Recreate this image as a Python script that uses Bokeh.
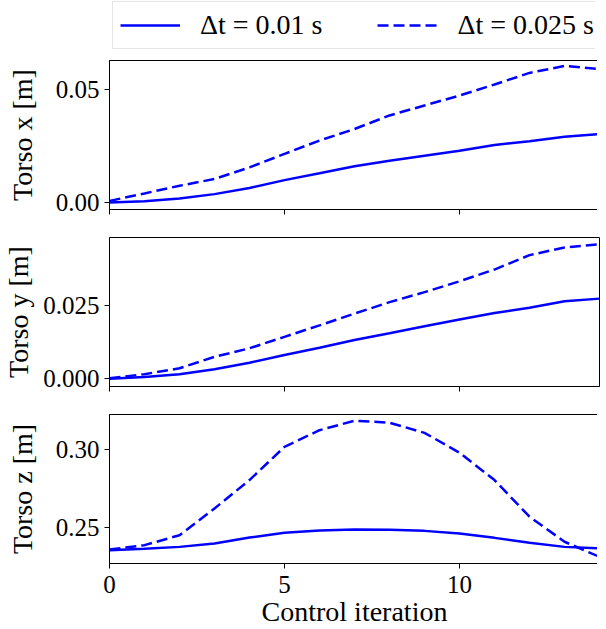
from bokeh.plotting import figure
from bokeh.layouts import column
from bokeh.models import (Range1d, FixedTicker, NumeralTickFormatter, Legend, LegendItem,
                          CustomJSTickFormatter)
from bokeh.embed import file_html
from bokeh.resources import INLINE

# ---- data ----
iters = [0, 1, 2, 3, 4, 5, 6, 7, 8, 9, 10, 11, 12, 13, 14]

x_dt001 = [0.0, 0.0006, 0.0018, 0.0037, 0.0064, 0.0099, 0.0129, 0.0160, 0.0185, 0.0207,
           0.0229, 0.0254, 0.0271, 0.0291, 0.0303]
x_dt0025 = [0.0007, 0.0040, 0.0074, 0.0104, 0.0155, 0.0215, 0.0274, 0.0325, 0.0385, 0.0429,
            0.0473, 0.0522, 0.0573, 0.0604, 0.0590]

y_dt001 = [0.0, 0.0006, 0.0016, 0.0033, 0.0055, 0.0081, 0.0106, 0.0132, 0.0155, 0.0179,
           0.0202, 0.0224, 0.0242, 0.0264, 0.0273]
y_dt0025 = [0.0002, 0.0016, 0.0036, 0.0075, 0.0104, 0.0143, 0.0182, 0.0222, 0.0261, 0.0295,
            0.0332, 0.0372, 0.0421, 0.0447, 0.0458]

z_dt001 = [0.2352, 0.2361, 0.2373, 0.2395, 0.2433, 0.2464, 0.2479, 0.2485, 0.2483, 0.2476,
           0.2459, 0.2431, 0.2399, 0.2373, 0.2363]
z_dt0025 = [0.2356, 0.2384, 0.2448, 0.2620, 0.2803, 0.3017, 0.3124, 0.3185, 0.3172, 0.3107,
            0.2979, 0.2803, 0.2567, 0.2406, 0.2309]

legend_labels = ["Δt = 0.01 s", "Δt = 0.025 s"]
y_labels = ["Torso x [m]", "Torso y [m]", "Torso z [m]"]
x_label = "Control iteration"
x_ticks = [0, 5, 10]
y_ticks = [[0.0, 0.05], [0.0, 0.025], [0.25, 0.30]]
y_formats = ["0.00", "0.000", "0.00"]
y_limits = [(-0.0031, 0.0628), (-0.0026, 0.0481), (0.2266, 0.3225)]

FONT = "Liberation Serif"
TICK_SIZE = "25px"
LABEL_SIZE = "28px"
BLUE = "#0000ff"
FRAME_W = 490
FRAME_H = 149
BORDER_L = 105
BORDER_R = 1
DASH = "11 5"

x_range = Range1d(0, 14)


def make_panel(ys_solid, ys_dash, idx, bottom):
    p = figure(frame_width=FRAME_W, frame_height=FRAME_H, x_range=x_range,
               y_range=Range1d(*y_limits[idx]), output_backend="svg",
               toolbar_location=None, min_border_left=BORDER_L, min_border_right=BORDER_R,
               min_border_top=14, min_border_bottom=14)
    p.background_fill_color = "white"
    p.border_fill_color = "white"
    p.outline_line_color = "black"
    p.outline_line_width = 1
    p.grid.visible = False
    p.line(iters, ys_solid, line_color=BLUE, line_width=2.5)
    p.line(iters, ys_dash, line_color=BLUE, line_width=2.5, line_dash=DASH)
    for ax in (p.xaxis[0], p.yaxis[0]):
        ax.axis_line_color = "black"
        ax.major_tick_line_color = "black"
        ax.major_tick_in = 0
        ax.major_tick_out = 5
        ax.minor_tick_line_color = None
        ax.major_label_text_font = FONT
        ax.major_label_text_font_size = TICK_SIZE
        ax.major_label_text_color = "black"
        ax.axis_label_text_font = FONT
        ax.axis_label_text_font_size = LABEL_SIZE
        ax.axis_label_text_font_style = "normal"
        ax.axis_label_text_color = "black"
    p.xaxis.ticker = FixedTicker(ticks=x_ticks)
    p.yaxis.ticker = FixedTicker(ticks=y_ticks[idx])
    p.yaxis.formatter = NumeralTickFormatter(format=y_formats[idx])
    p.yaxis.major_label_standoff = 5
    p.yaxis.axis_label = y_labels[idx]
    p.yaxis.axis_label_standoff = [15, 6, 15][idx]
    if bottom:
        p.xaxis.major_label_standoff = 7
        p.xaxis.axis_label = x_label
        p.xaxis.axis_label_standoff = 0
        p.min_border_bottom = 0
    else:
        p.xaxis.formatter = CustomJSTickFormatter(code="return ''")
        p.xaxis.major_label_text_font_size = "1px"
        p.xaxis.major_label_standoff = 0
    return p


p1 = make_panel(x_dt001, x_dt0025, 0, False)
p1.min_border_top = 10
p2 = make_panel(y_dt001, y_dt0025, 1, False)
p3 = make_panel(z_dt001, z_dt0025, 2, True)

# legend strip on top (its sample lines sit outside its visible range)
pl = figure(width=BORDER_L + FRAME_W + BORDER_R, height=50, x_range=Range1d(100, 101),
            y_range=Range1d(100, 101), output_backend="svg", toolbar_location=None,
            min_border=0, min_border_left=0, min_border_right=0, min_border_top=0,
            min_border_bottom=0)
pl.axis.visible = False
pl.grid.visible = False
pl.outline_line_color = None
la = pl.line(iters, x_dt001, line_color=BLUE, line_width=2.5)
lb = pl.line(iters, x_dt0025, line_color=BLUE, line_width=2.5, line_dash=DASH)
legend = Legend(items=[LegendItem(label=legend_labels[0], renderers=[la]),
                       LegendItem(label=legend_labels[1], renderers=[lb])],
                orientation="horizontal", location=(3, 1))
legend.label_text_font = FONT
legend.label_text_font_size = LABEL_SIZE
legend.label_text_color = "black"
legend.glyph_width = 60
legend.glyph_height = 30
legend.label_standoff = 20
legend.spacing = 55
legend.padding = 7
legend.margin = 0
legend.border_line_color = "#cccccc"
legend.border_line_width = 1
legend.background_fill_alpha = 0.8
pl.add_layout(legend)

layout = column(pl, p1, p2, p3, spacing=0)

open("out.html", "w").write(file_html(layout, INLINE))
